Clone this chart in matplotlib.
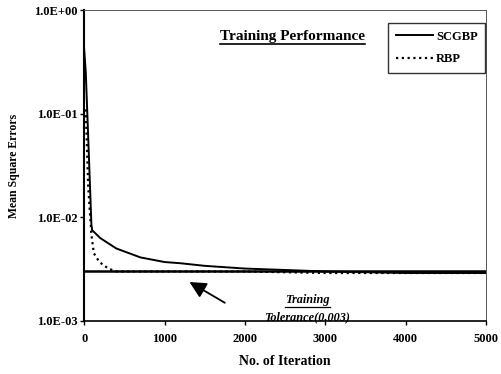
import matplotlib.pyplot as plt
from matplotlib.lines import Line2D

# --------------------------------------------------
# Data
# --------------------------------------------------
scg_iter = [0, 20, 50, 90, 100, 200, 400, 700, 1000, 1200, 1500, 2000, 2500, 3000, 4000, 5000]
scg_mse = [0.42, 0.25, 0.06, 0.0085, 0.0075, 0.0063, 0.0050, 0.0041, 0.0037, 0.0036, 0.0034, 0.0032, 0.0031, 0.0030, 0.0029, 0.0029]

rbp_iter = [20, 50, 90, 120, 190, 300, 400, 1000, 2000, 3000, 4000, 5000]
rbp_mse = [0.11, 0.02, 0.0068, 0.0045, 0.0037, 0.0032, 0.0030, 0.0030, 0.0030, 0.0029, 0.0029, 0.0029]

tolerance = 0.003
x_ticks = [0, 1000, 2000, 3000, 4000, 5000]
y_ticks = [1e-3, 1e-2, 1e-1, 1e0]
y_labels = ["1.0E-03", "1.0E-02", "1.0E-01", "1.0E+00"]

plt.rcParams["font.family"] = "Liberation Serif"
plt.rcParams["font.weight"] = "bold"

fig = plt.figure(figsize=(5.01, 3.74), dpi=100)
ax = fig.add_axes([0.168, 0.142, 0.802, 0.831])

ax.plot(scg_iter, scg_mse, color="black", lw=1.4, label="SCGBP")
ax.plot(rbp_iter, rbp_mse, color="black", lw=1.6, ls=(0, (1.0, 1.6)), label="RBP")
ax.axhline(tolerance, color="black", lw=1.8)

ax.set_yscale("log")
ax.set_xlim(0, 5000)
ax.set_ylim(1e-3, 1)
ax.set_xticks(x_ticks)
ax.set_yticks(y_ticks)
ax.set_yticklabels(y_labels)
ax.minorticks_off()
ax.tick_params(axis="both", labelsize=9, length=3, width=1, direction="out")
ax.tick_params(axis="x", pad=6)
ax.tick_params(axis="y", pad=2)

ax.spines["left"].set_linewidth(1.5)
ax.spines["bottom"].set_linewidth(1.2)
for s in ["top", "right"]:
    ax.spines[s].set_linewidth(0.7)
    ax.spines[s].set_linestyle((0, (3, 1)))
    ax.spines[s].set_color("#555555")

ax.set_xlabel("No. of Iteration", fontsize=10, fontweight="bold", labelpad=7)
ax.set_ylabel("Mean Square Errors", fontsize=8.5, fontweight="bold", labelpad=10)

title = ax.text(2590, 0.55, "Training Performance", fontsize=11, fontweight="bold",
                ha="center", va="center")

ax.annotate("", xy=(1280, 0.00245), xytext=(1780, 0.00145),
            arrowprops=dict(arrowstyle="-|>,head_length=1.0,head_width=0.5",
                            color="black", lw=1.3))

tol1 = ax.text(2780, 0.00160, "Training", fontsize=8.8, fontweight="bold", style="italic",
               ha="center", va="center")
tol2 = ax.text(2780, 0.00108, "Tolerance(0.003)", fontsize=8.8, fontweight="bold", style="italic",
               ha="center", va="center")

leg = ax.legend(loc="upper right", bbox_to_anchor=(0.998, 0.958), borderaxespad=0,
                fontsize=9, frameon=True, fancybox=False, edgecolor="black",
                handlelength=3.0, handletextpad=0.2, borderpad=0.6, labelspacing=0.85)
leg.get_frame().set_linewidth(1.0)

# underline the title and the "Training" word
fig.canvas.draw()
r = fig.canvas.get_renderer()
for t, lw in [(title, 1.2), (tol1, 0.9)]:
    bb = t.get_window_extent(r)
    y = bb.y0 - 1
    p0 = fig.transFigure.inverted().transform((bb.x0, y))
    p1 = fig.transFigure.inverted().transform((bb.x1, y))
    fig.add_artist(Line2D([p0[0], p1[0]], [p0[1], p1[1]], color="black", lw=lw))

fig.savefig("out.png", dpi=100)
